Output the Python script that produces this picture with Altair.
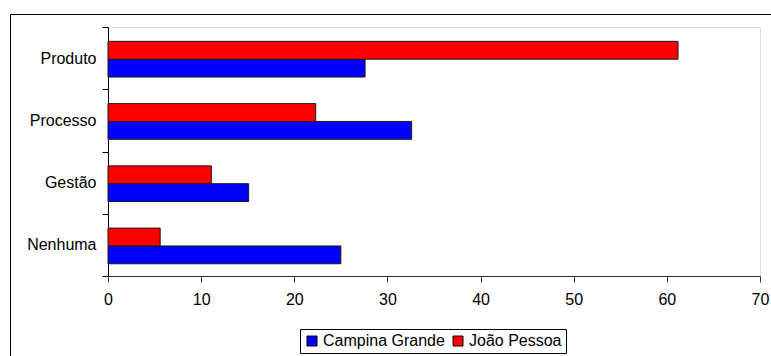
import altair as alt
import pandas as pd

# Innovation type by city (%)
categories = ["Produto", "Processo", "Gestão", "Nenhuma"]
campina_grande = [27.6, 32.6, 15.1, 25.0]
joao_pessoa = [61.2, 22.3, 11.1, 5.6]
series = ["Campina Grande", "João Pessoa"]
colors = ["#0000ff", "#ff0000"]
x_ticks = [0, 10, 20, 30, 40, 50, 60, 70]

rows = []
for cat, cg, jp in zip(categories, campina_grande, joao_pessoa):
    rows.append({"categoria": cat, "cidade": series[0], "valor": cg})
    rows.append({"categoria": cat, "cidade": series[1], "valor": jp})
df = pd.DataFrame(rows)

FONT = "Liberation Sans"

bars = alt.Chart(df).mark_bar(stroke="#1a1a1a", strokeWidth=1).encode(
    x=alt.X(
        "valor:Q",
        scale=alt.Scale(domain=[0, 70], nice=False, zero=True),
        axis=alt.Axis(
            values=x_ticks, title=None, grid=False, format="d",
            domainColor="#333333", tickColor="#333333", tickSize=6,
            labelFont=FONT, labelFontSize=16, labelColor="#000000",
            labelPadding=9, labelFlush=False,
        ),
    ),
    y=alt.Y(
        "categoria:N",
        sort=categories,
        scale=alt.Scale(paddingInner=0, paddingOuter=0),
        axis=alt.Axis(
            title=None, grid=False, tickBand="extent",
            domainColor="#000000", tickColor="#000000", tickSize=6,
            labelFont=FONT, labelFontSize=16, labelColor="#000000",
            labelPadding=6,
        ),
    ),
    yOffset=alt.YOffset(
        "cidade:N",
        sort=["João Pessoa", "Campina Grande"],
        scale=alt.Scale(paddingInner=0, paddingOuter=0.745, align=0.54),
    ),
    color=alt.Color(
        "cidade:N",
        scale=alt.Scale(domain=series, range=colors),
        legend=alt.Legend(
            title=None, orient="none", direction="horizontal",
            legendX=192, legendY=302,
            symbolType="square", symbolSize=100,
            symbolStrokeColor="#000000", symbolStrokeWidth=1,
            labelFont=FONT, labelFontSize=16, labelColor="#000000",
            labelOffset=3, columnPadding=5, padding=4,
            strokeColor="#000000", fillColor="#ffffff",
        ),
    ),
)

# Outer chart frame
frame = alt.Chart(alt.Data(values=[{}])).mark_rect(
    fillOpacity=0, stroke="#000000", strokeWidth=1
).encode(
    x=alt.value(-97.5), y=alt.value(-12.5),
    x2=alt.value(900), y2=alt.value(500),
)

chart = alt.layer(frame, bars).properties(
    width=652, height=249,
    padding={"left": 108, "top": 27, "right": 11, "bottom": 80},
    autosize=alt.AutoSizeParams(type="none"),
).configure_view(stroke=None).configure(background="#ffffff")

chart.save("out.html", embed_options={"renderer": "svg", "actions": False})
